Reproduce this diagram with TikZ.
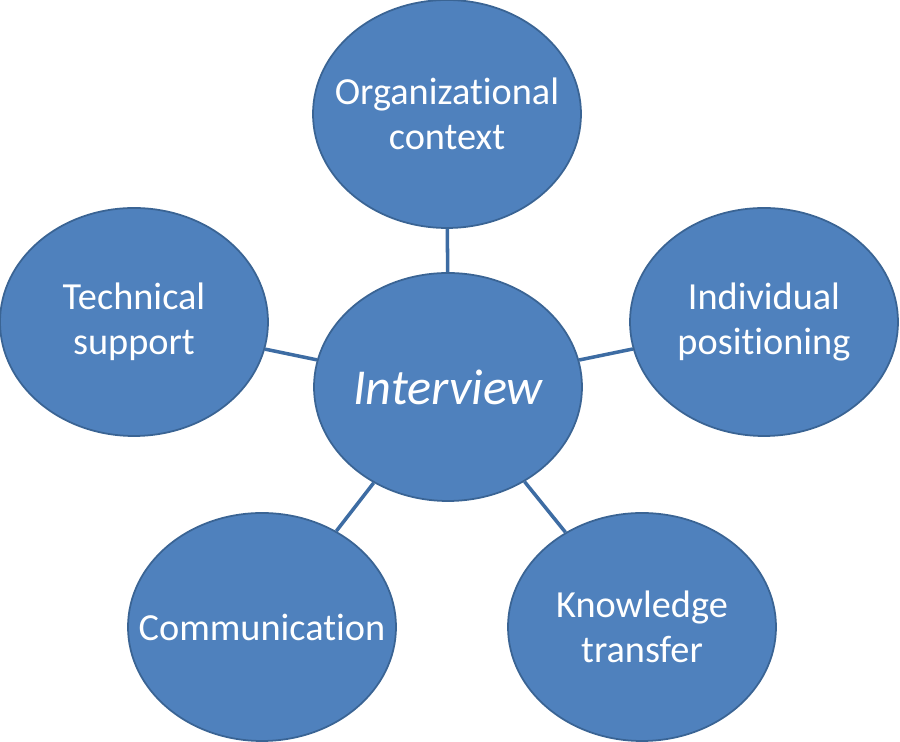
\documentclass[tikz,border=0pt]{standalone}
\usepackage{fontspec}
\setmainfont{Carlito}[Ligatures=NoCommon]
\usetikzlibrary{shapes.geometric}

\definecolor{bubblefill}{HTML}{4F81BD}
\definecolor{bubbleline}{HTML}{3A6494}
\definecolor{linkline}{HTML}{3D6CA3}

\begin{document}
\begin{tikzpicture}[
    topic/.style={ellipse, draw=bubbleline, line width=0.5pt, fill=bubblefill,
                  minimum width=2.68cm, minimum height=2.28cm, inner sep=0pt,
                  label={[text=white, align=center,
                          font=\fontsize{10.9}{12.8}\selectfont]center:#1}},
    hub/.style={ellipse, draw=bubbleline, line width=0.5pt, fill=bubblefill,
                minimum width=2.68cm, minimum height=2.28cm, inner sep=0pt,
                label={[text=white, font=\fontsize{14.3}{16}\selectfont\itshape]center:#1}},
    link/.style={draw=linkline, line width=1pt}
  ]
  \useasboundingbox (0, 0) rectangle (9, 7.42);

  % Centre
  \node[hub=Interview] (interview) at (4.48, 3.55) {};

  % Surrounding topics
  \node[topic={Organizational\\context}] (context) at (4.47, 6.28) {};
  \node[topic={Technical\\support}] (support) at (1.34, 4.20) {};
  \node[topic={Individual\\positioning}] (position) at (7.64, 4.20) {};
  \node[topic=Communication] (comm) at (2.62, 1.15) {};
  \node[topic={Knowledge\\transfer}] (transfer) at (6.42, 1.15) {};

  % Links
  \draw[link] (interview) -- (context);
  \draw[link] (interview) -- (support);
  \draw[link] (interview) -- (position);
  \draw[link] (interview) -- (comm);
  \draw[link] (interview) -- (transfer);

\end{tikzpicture}
\end{document}
